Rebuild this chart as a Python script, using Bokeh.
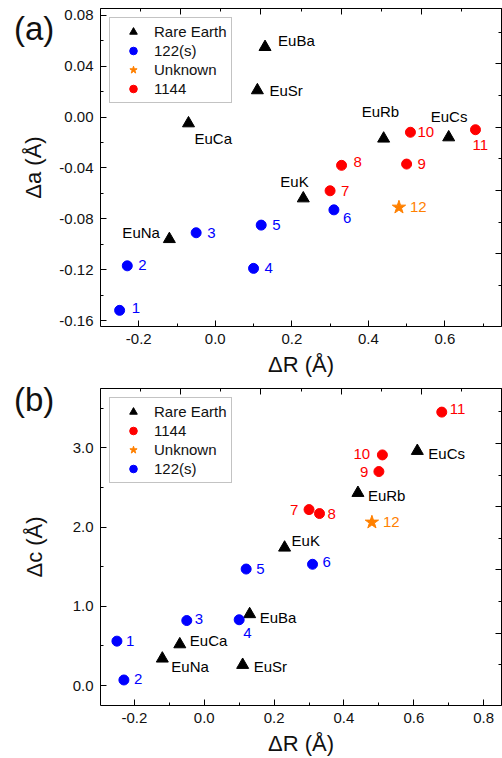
from bokeh.plotting import figure
from bokeh.models import (ColumnDataSource, Range1d, LinearAxis, SingleIntervalTicker,
                          FixedTicker, PrintfTickFormatter, Legend, LegendItem, Div)
from bokeh.layouts import column
from bokeh.embed import file_html
from bokeh.resources import INLINE
from bokeh.core.properties import value

FONT = "Liberation Sans"

# ---------------- data ----------------
re_names = ["EuNa", "EuCa", "EuSr", "EuBa", "EuK", "EuRb", "EuCs"]
re_dR = [-0.12, -0.07, 0.11, 0.13, 0.23, 0.44, 0.61]
re_da = [-0.096, -0.005, 0.021, 0.055, -0.064, -0.017, -0.016]
re_dc = [0.34, 0.52, 0.26, 0.90, 1.74, 2.43, 2.96]

s122_names = ["1", "2", "3", "4", "5", "6"]
s122_dR = [-0.25, -0.23, -0.05, 0.10, 0.12, 0.31]
s122_da = [-0.152, -0.117, -0.091, -0.119, -0.085, -0.073]
s122_dc = [0.56, 0.07, 0.82, 0.83, 1.47, 1.53]

s1144_names = ["7", "8", "9", "10", "11"]
s1144_dR = [0.30, 0.33, 0.50, 0.51, 0.68]
s1144_da = [-0.058, -0.038, -0.037, -0.012, -0.010]
s1144_dc = [2.22, 2.17, 2.70, 2.91, 3.45]

unk_names = ["12"]
unk_dR = [0.48]
unk_da = [-0.071]
unk_dc = [2.06]

# ---------------- label placement (pixels, layout only) ----------------
off_a = {
    "re": ([-47, 6, 12, 13, -23, -22, -18], [-7, 15, 0, -7, -17, -27, -21]),
    "122": ([12, 11, 11, 11, 11, 9], [-2, -1, 0, 0, 0, 8]),
    "1144": ([11, 12, 11, 7, -3], [0, -3, 0, 0, 15]),
    "unk": ([11], [0]),
}
off_b = {
    "re": ([9, 10, 11, 10, 7, 10, 11], [8, -4, 2, 3, -7, 3, 3]),
    "122": ([9, 10, 8, 4, 10, 10], [0, -1, -2, 13, 0, -2]),
    "1144": ([-19, 8, -19, -29, 8], [0, 0, 0, -1, -3]),
    "unk": ([11], [0]),
}

BLUE = "#0000FF"
RED = "#FF0000"
ORANGE = "#FF8000"
BLACK = "#000000"


def style_main_axis(ax, fmt, ticker):
    ax.ticker = ticker
    ax.formatter = PrintfTickFormatter(format=fmt)
    ax.major_tick_in = 6
    ax.major_tick_out = 0
    ax.minor_tick_in = 3
    ax.minor_tick_out = 0
    ax.axis_line_color = BLACK
    ax.major_tick_line_color = BLACK
    ax.minor_tick_line_color = BLACK
    ax.major_label_text_font = FONT
    ax.major_label_text_font_size = "15px"
    ax.major_label_text_color = "#111111"
    ax.axis_label_text_font = FONT
    ax.axis_label_text_font_size = "22px"
    ax.axis_label_text_font_style = "normal"
    ax.axis_label_text_color = "#111111"


def add_mirror(p, side, **rng):
    # label-free mirrored axis: only "minor" ticks, two lengths
    for ticks, length in (([2, 4, 6, 8], 6), ([1, 3, 5, 7, 9], 3)):
        ax = LinearAxis(**rng)
        ax.ticker = FixedTicker(ticks=[], minor_ticks=ticks)
        ax.major_tick_in = 0
        ax.major_tick_out = 0
        ax.minor_tick_in = length
        ax.minor_tick_out = 0
        ax.major_label_standoff = 0
        ax.axis_line_color = BLACK
        ax.minor_tick_line_color = BLACK
        p.add_layout(ax, side)


def make_panel(ydata, offs, xr, yr, yint, yfmt, ylabel, legend_order,
               height, border_top, border_bottom, border_left, right_range, ystandoff):
    p = figure(width=502, height=height, output_backend="svg", toolbar_location=None,
               x_range=Range1d(*xr), y_range=Range1d(*yr),
               min_border_left=border_left, min_border_right=1,
               min_border_top=border_top, min_border_bottom=border_bottom)
    p.xgrid.visible = False
    p.ygrid.visible = False
    p.outline_line_color = None
    p.background_fill_color = "white"
    p.border_fill_color = "white"

    style_main_axis(p.xaxis[0], "%.1f", SingleIntervalTicker(interval=0.2, num_minor_ticks=2))
    style_main_axis(p.yaxis[0], yfmt, SingleIntervalTicker(interval=yint, num_minor_ticks=2))
    p.xaxis[0].axis_label = "ΔR (Å)"
    p.yaxis[0].axis_label = ylabel
    p.xaxis[0].major_label_standoff = 7
    p.yaxis[0].major_label_standoff = 7
    p.xaxis[0].axis_label_standoff = 5
    p.yaxis[0].axis_label_standoff = ystandoff

    p.extra_x_ranges = {"top": Range1d(0, 10)}
    p.extra_y_ranges = {"right": Range1d(*right_range)}
    add_mirror(p, "above", x_range_name="top")
    add_mirror(p, "right", y_range_name="right")

    groups = {
        "re": (re_names, re_dR, ydata["re"], BLACK, "triangle", 12, "Rare Earth"),
        "122": (s122_names, s122_dR, ydata["122"], BLUE, "circle", 10, "122(s)"),
        "1144": (s1144_names, s1144_dR, ydata["1144"], RED, "circle", 10, "1144"),
        "unk": (unk_names, unk_dR, ydata["unk"], ORANGE, "star", 14, "Unknown"),
    }
    renderers = {}
    for key, (names, xs, ys, col, marker, size, lab) in groups.items():
        dx, dy = offs[key]
        src = ColumnDataSource(dict(x=xs, y=ys, name=names, dx=dx, dy=dy))
        r = p.scatter("x", "y", source=src, marker=marker, size=size,
                      fill_color=col, line_color=col)
        renderers[key] = (r, lab)
        p.text("x", "y", text="name", source=src, x_offset="dx", y_offset="dy",
               text_color=col, text_font=value(FONT), text_font_size="15px",
               text_align="left", text_baseline="middle")

    items = [LegendItem(label=renderers[k][1], renderers=[renderers[k][0]]) for k in legend_order]
    leg = Legend(items=items, location="top_left", margin=9, padding=4, spacing=0,
                 label_height=19, glyph_height=19, glyph_width=38, label_standoff=2,
                 label_text_font=FONT, label_text_font_size="15px",
                 label_text_color="#111111",
                 border_line_color="#888888", border_line_width=1,
                 background_fill_color="white", background_fill_alpha=1.0)
    p.add_layout(leg)
    return p


pa = make_panel({"re": re_da, "122": s122_da, "1144": s1144_da, "unk": unk_da}, off_a,
                (-0.300, 0.748), (-0.1647, 0.0853), 0.04, "%.2f", "Δa (Å)",
                ["re", "122", "unk", "1144"],
                380, 8, 54, 100, (-0.295, 9.746), 10)
pb = make_panel({"re": re_dc, "122": s122_dc, "1144": s1144_dc, "unk": unk_dc}, off_b,
                (-0.297, 0.851), (-0.252, 3.748), 1.0, "%.1f", "Δc (Å)",
                ["re", "1144", "unk", "122"],
                378, 8, 52, 99, (-0.285, 9.737), 23)


def panel_tag(text, top):
    return Div(text=text, styles={"position": "absolute", "left": "9px", "top": f"{top}px",
                                  "font-family": "Liberation Sans", "font-size": "33px",
                                  "color": "#111111", "line-height": "40px", "z-index": "5"})


layout = column(pa, panel_tag("(a)", 4), pb, panel_tag("(b)", 375), spacing=0)
open("out.html", "w").write(file_html(layout, INLINE))
